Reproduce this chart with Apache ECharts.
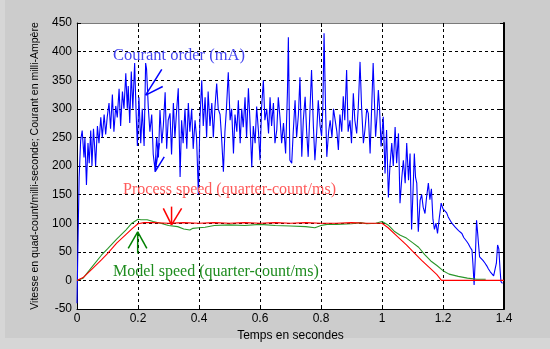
<!DOCTYPE html>
<html><head><meta charset="utf-8">
<script src="https://cdn.jsdelivr.net/npm/echarts@6/dist/echarts.min.js"></script>
<style>html,body{margin:0;padding:0;background:#cccccc;}#c{width:550px;height:349px;}</style>
</head><body><div id="c"></div>
<script>
// ---- data (time in s, value) ----
const xTicks = [0, 0.2, 0.4, 0.6, 0.8, 1, 1.2, 1.4];
const yTicks = [-50, 0, 50, 100, 150, 200, 250, 300, 350, 400, 450];

const courantOrder = [
[0,-40],[0.003,60],[0.007,180],[0.012,245],[0.017,262],[0.023,215],[0.026,250],[0.031,167],[0.036,240],[0.040,205],
[0.045,262],[0.049,200],[0.054,265],[0.058,232],[0.061,200],[0.067,270],[0.072,240],[0.078,285],[0.083,250],[0.089,290],
[0.094,255],[0.099,285],[0.105,310],[0.110,265],[0.116,325],[0.121,260],[0.127,305],[0.132,285],[0.138,335],[0.143,270],
[0.149,330],[0.154,300],[0.160,362],[0.165,300],[0.168,340],[0.173,275],[0.178,365],[0.183,300],[0.189,380],[0.194,290],
[0.198,235],[0.203,320],[0.209,240],[0.214,300],[0.220,235],[0.225,380],[0.228,370],[0.234,300],[0.239,260],[0.245,290],
[0.250,220],[0.256,193],[0.261,250],[0.267,215],[0.272,298],[0.278,240],[0.283,270],[0.289,329],[0.294,230],[0.299,280],
[0.305,292],[0.310,220],[0.316,310],[0.321,250],[0.327,300],[0.332,336],[0.338,181],[0.343,280],[0.348,240],[0.354,300],
[0.360,230],[0.365,310],[0.370,260],[0.376,300],[0.381,230],[0.387,280],[0.392,250],[0.398,150],[0.403,280],[0.409,350],
[0.414,270],[0.420,320],[0.425,250],[0.430,330],[0.436,270],[0.442,310],[0.447,250],[0.452,300],[0.458,344],[0.463,300],
[0.469,290],[0.474,250],[0.480,190],[0.485,260],[0.490,300],[0.496,364],[0.502,280],[0.507,300],[0.513,222],[0.518,290],
[0.524,260],[0.529,315],[0.535,240],[0.540,300],[0.545,268],[0.551,320],[0.556,250],[0.562,336],[0.567,280],[0.573,198],
[0.578,270],[0.584,240],[0.589,304],[0.595,260],[0.600,210],[0.605,300],[0.611,350],[0.616,280],[0.622,300],[0.628,257],
[0.633,320],[0.638,270],[0.644,310],[0.649,240],[0.655,263],[0.660,320],[0.666,281],[0.671,240],[0.677,275],[0.684,222],
[0.690,330],[0.693,425],[0.698,210],[0.704,205],[0.709,260],[0.715,315],[0.720,250],[0.726,290],[0.731,355],[0.737,216],
[0.742,280],[0.748,321],[0.753,260],[0.758,216],[0.764,300],[0.769,368],[0.775,270],[0.780,210],[0.786,260],[0.791,315],
[0.797,270],[0.802,252],[0.806,300],[0.810,432],[0.815,300],[0.819,216],[0.825,260],[0.830,280],[0.836,250],[0.841,300],
[0.846,298],[0.852,260],[0.857,228],[0.862,290],[0.868,260],[0.873,322],[0.878,280],[0.884,368],[0.889,260],[0.895,280],
[0.900,240],[0.906,327],[0.911,280],[0.917,257],[0.922,300],[0.928,382],[0.933,304],[0.939,240],[0.944,263],[0.950,300],
[0.955,292],[0.961,222],[0.966,300],[0.971,380],[0.976,300],[0.979,251],[0.984,290],[0.988,333],[0.992,300],[0.997,234],
[1.004,286],[1.010,187],[1.015,263],[1.021,145],[1.026,200],[1.032,240],[1.037,200],[1.043,268],[1.048,205],[1.054,257],
[1.059,135],[1.065,180],[1.070,210],[1.076,170],[1.081,240],[1.087,175],[1.092,222],[1.097,89],[1.102,160],[1.106,222],
[1.110,180],[1.114,170],[1.119,85],[1.125,140],[1.130,150],[1.135,128],[1.141,117],[1.146,145],[1.152,170],[1.157,141],
[1.162,160],[1.167,107],[1.172,89],[1.177,100],[1.182,82],[1.188,110],[1.194,135],[1.200,125],[1.206,128],[1.212,118],
[1.217,111],[1.223,108],[1.229,100],[1.234,97],[1.240,93],[1.246,95],[1.251,87],[1.257,84],[1.262,82],[1.268,75],
[1.273,72],[1.278,68],[1.283,64],[1.289,58],[1.295,53],[1.298,30],[1.302,-8],[1.306,40],[1.310,105],[1.314,80],
[1.317,60],[1.320,41],[1.325,38],[1.331,35],[1.338,30],[1.344,25],[1.349,20],[1.355,15],[1.360,12],[1.366,8],
[1.370,6],[1.375,30],[1.379,62],[1.383,55],[1.387,20],[1.390,-2],[1.395,-5]
];

const processSpeed = [
[0,0],[0.02,5],[0.05,20],[0.08,36],[0.1,47],[0.13,65],[0.16,80],[0.18,90],[0.2,99],[0.22,101],
[0.25,101],[0.3,100],[0.35,101],[0.4,100],[0.45,101],[0.5,100],[0.55,101],[0.6,100],[0.65,101],[0.7,100],
[0.75,101],[0.8,100],[0.85,100],[0.9,101],[0.95,100],[1.0,100],[1.02,92],[1.05,77],[1.08,62],[1.1,51],
[1.13,35],[1.16,20],[1.18,10],[1.195,0],[1.4,0]
];

const modelSpeed = [
[0,0],[0.02,4],[0.05,24],[0.08,44],[0.1,55],[0.13,72],[0.16,88],[0.18,100],[0.2,107],[0.21,106],
[0.23,106],[0.25,103],[0.28,99],[0.3,96],[0.33,94],[0.35,90],[0.37,88],[0.38,91],[0.4,92],[0.42,93],
[0.45,96],[0.5,97],[0.55,96],[0.6,98],[0.65,96],[0.7,95],[0.75,94],[0.78,92],[0.8,96],[0.82,98],
[0.85,98],[0.9,99],[0.93,101],[0.95,99],[0.98,100],[1.0,103],[1.02,97],[1.04,86],[1.06,79],[1.08,74],
[1.1,66],[1.12,58],[1.14,45],[1.16,34],[1.18,26],[1.2,17],[1.22,11],[1.25,7],[1.28,4],[1.31,2],[1.34,2]
];

// annotation texts, anchored in data coordinates (left edge, vertical middle)
const noteTexts = ['Courant order (mA)', 'Process speed (quarter-count/ms)', 'Model speed (quarter-count/ms)'];
const noteAnchors = [[0.118, 393], [0.151, 158], [0.118, 15]];
const noteColors = ['#4545f0', '#ff5a5a', '#1e8c1e'];
const noteSizes = [16.5, 16, 16];

// arrows: [tip, tail] pairs in data coordinates
const blueArrows = [[[0.225,324],[0.278,369]], [[0.225,324],[0.281,339]], [[0.256,190],[0.270,240]], [[0.256,190],[0.286,216]]];
const redArrows = [[[0.310,97],[0.283,126]], [[0.310,97],[0.343,126]], [[0.310,97],[0.310,129]]];
const greenArrows = [[[0.199,85],[0.168,56]], [[0.199,85],[0.229,56]], [[0.199,85],[0.199,47]]];

const chart = echarts.init(document.getElementById('c'), null, {renderer: 'canvas'});
const sans = 'Liberation Sans';
const axisCommon = {
  type: 'value', axisLine: {show: true, onZero: false, lineStyle: {color: '#000', width: 1}},
  axisTick: {show: true, inside: true, length: 4, lineStyle: {color: '#000'}},
};
chart.setOption({
  animation: false,
  backgroundColor: '#cccccc',
  grid: {left: 77, right: 46, top: 23, bottom: 40, show: true, backgroundColor: '#ffffff', borderWidth: 0},
  xAxis: [
    Object.assign({}, axisCommon, {
      position: 'bottom', min: 0, max: 1.4, interval: 0.2,
      axisLabel: {color: '#000', fontFamily: sans, fontSize: 12, margin: 4},
      splitLine: {show: true, lineStyle: {color: '#000', type: [3, 3], width: 1}},
      name: 'Temps en secondes', nameLocation: 'middle', nameGap: 16,
      nameTextStyle: {color: '#000', fontFamily: sans, fontSize: 12}
    }),
    Object.assign({}, axisCommon, {
      position: 'top', min: 0, max: 1.4, interval: 0.2,
      axisLine: {show: true, onZero: false, lineStyle: {color: '#7a7a7a', width: 1}},
      axisLabel: {show: false}, splitLine: {show: false}
    })
  ],
  yAxis: [
    Object.assign({}, axisCommon, {
      position: 'left', min: -50, max: 450, interval: 50,
      axisLabel: {color: '#000', fontFamily: sans, fontSize: 12, margin: 5},
      splitLine: {show: true, lineStyle: {color: '#000', type: [3, 3], width: 1}},
      name: 'Vitesse en quad-count/milli-seconde; Courant en milli-Ampère',
      nameLocation: 'middle', nameGap: 34,
      nameTextStyle: {color: '#000', fontFamily: sans, fontSize: 10.5}
    }),
    Object.assign({}, axisCommon, {
      position: 'right', min: -50, max: 450, interval: 50,
      axisLine: {show: true, onZero: false, lineStyle: {color: '#000', width: 2}},
      axisLabel: {show: false}, splitLine: {show: false}
    })
  ],
  series: [
    {type: 'line', data: courantOrder, showSymbol: false, symbol: 'none', lineStyle: {color: '#0000ff', width: 1.1}, z: 3},
    {type: 'line', data: modelSpeed, showSymbol: false, symbol: 'none', lineStyle: {color: '#2a962a', width: 1.1}, z: 4},
    {type: 'line', data: processSpeed, showSymbol: false, symbol: 'none', lineStyle: {color: '#ff0000', width: 1.1}, z: 5}
  ]
});

function px(p) { return chart.convertToPixel({xAxisIndex: 0, yAxisIndex: 0}, p); }
const graphics = [
  {type: 'rect', shape: {x: 0, y: 0, width: 5, height: 349}, style: {fill: '#d6d6d6'}, z: -10, silent: true},
  {type: 'rect', shape: {x: 0, y: 338, width: 550, height: 11}, style: {fill: '#d6d6d6'}, z: -10, silent: true}
];
noteTexts.forEach((t, i) => {
  const p = px(noteAnchors[i]);
  graphics.push({type: 'text', x: p[0], y: p[1], z: 100,
    style: {text: t, fill: noteColors[i], font: noteSizes[i] + 'px "Liberation Serif"',
      textAlign: 'left', textVerticalAlign: 'middle', align: 'left', verticalAlign: 'middle'}});
});
[[blueArrows, '#0000ff'], [redArrows, '#ff0000'], [greenArrows, '#008000']].forEach(([arr, col]) => {
  arr.forEach(seg => {
    const a = px(seg[0]), b = px(seg[1]);
    graphics.push({type: 'line', z: 100, shape: {x1: a[0], y1: a[1], x2: b[0], y2: b[1]},
      style: {stroke: col, lineWidth: 1.5}});
  });
});
chart.setOption({graphic: graphics});
</script>
</body></html>
